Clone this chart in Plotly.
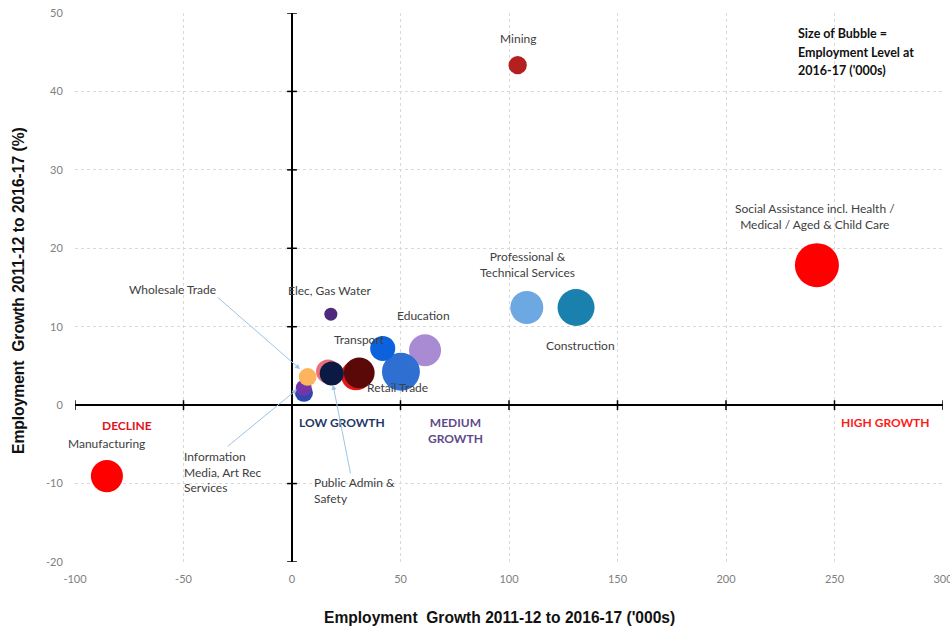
import plotly.graph_objects as go

# ---- data ----
industries = [
    "Social Assistance incl. Health / Medical / Aged & Child Care",
    "Manufacturing",
    "Mining",
    "Construction",
    "Professional & Technical Services",
    "Education",
    "Retail Trade",
    "Transport",
    "Administrative & Support Services",
    "Accommodation & Food Services",
    "Financial & Insurance Services",
    "Public Admin & Safety",
    "Rental, Hiring & Real Estate",
    "Information Media, Art Rec Services",
    "Wholesale Trade",
    "Elec, Gas Water",
]
growth_000s = [241.9, -85.3, 104.0, 130.9, 108.2, 61.3, 50.2, 41.8, 29.5, 31.0, 16.6, 18.3, 5.5, 5.4, 7.2, 17.9]
growth_pct = [17.85, -9.05, 43.35, 12.45, 12.45, 7.0, 4.25, 7.23, 3.8, 4.12, 4.3, 4.04, 1.57, 2.2, 3.6, 11.6]
employment_2016_17 = [1600, 850, 275, 1130, 900, 850, 1190, 520, 745, 780, 475, 475, 270, 210, 260, 140]

x_ticks = [-100, -50, 0, 50, 100, 150, 200, 250, 300]
y_ticks = [-20, -10, 0, 10, 20, 30, 40, 50]

# ---- styles ----
colors = ["#ff0000", "#ff0000", "#b3201f", "#1a80ad", "#6ea8e2", "#a98bd3", "#2f6fd2", "#0b62dc",
          "#e01818", "#5a0808", "#e8707e", "#0a1a42", "#2e48b0", "#7335a8", "#fdb45c", "#4d2a7c"]
MAX_D = 44
label_font = dict(family="Lato, Carlito, sans-serif", size=12, color="#404040")
arrow_color = "#9ec4e4"

fig = go.Figure()

fig.add_trace(go.Scatter(
    x=growth_000s, y=growth_pct, mode="markers",
    text=industries,
    customdata=employment_2016_17,
    hovertemplate="%{text}<br>Growth: %{x}k (%{y}%)<br>Employment: %{customdata}k<extra></extra>",
    marker=dict(size=employment_2016_17, sizemode="area",
                sizeref=2.0 * max(employment_2016_17) / MAX_D ** 2,
                color=colors, opacity=1, line=dict(width=0)),
    showlegend=False,
))

# small tick marks along the zero lines
fig.add_trace(go.Scatter(
    x=[0] * len(y_ticks), y=y_ticks, mode="markers", hoverinfo="skip", showlegend=False,
    marker=dict(symbol="line-ew", size=7, line=dict(color="black", width=1.5)),
))
fig.add_trace(go.Scatter(
    x=x_ticks, y=[0] * len(x_ticks), mode="markers", hoverinfo="skip", showlegend=False,
    marker=dict(symbol="line-ns", size=7, line=dict(color="black", width=1.5)),
))

def label(x, y, text, **kw):
    d = dict(x=x, y=y, xref="x", yref="y", text=text, showarrow=False, font=label_font,
             xanchor="center", yanchor="middle")
    d.update(kw)
    fig.add_annotation(**d)

label(104.1, 46.75, "Mining")
label(241.0, 24.1, "Social Assistance incl. Health /<br>Medical / Aged & Child Care")
label(108.4, 17.9, "Professional &<br>Technical Services")
label(133.0, 7.65, "Construction")
label(60.8, 11.4, "Education")
label(31.3, 8.37, "Transport")
label(48.5, 2.25, "Retail Trade")
label(17.5, 14.66, "Elec, Gas Water")
label(-55.0, 14.75, "Wholesale Trade")
label(-50.8, -8.5, "Information<br>Media, Art Rec<br>Services", xanchor="left", align="left")
label(9.1, -10.84, "Public Admin &<br>Safety", xanchor="left", align="left")
label(-85.4, -4.9, "Manufacturing")

bold = "Lato, Carlito, sans-serif"
label(-75.9, -2.55, "<b>DECLINE</b>", font=dict(family=bold, size=12, color="#e0141e"))
label(22.9, -2.25, "<b>LOW GROWTH</b>", font=dict(family=bold, size=12, color="#1f3864"))
label(75.4, -3.25, "<b>MEDIUM<br>GROWTH</b>", font=dict(family=bold, size=12, color="#5e4a8a"))
label(273.3, -2.25, "<b>HIGH GROWTH</b>", font=dict(family=bold, size=12, color="#ff1a1a"))
for yy, line in zip([47.39, 44.91, 42.62],
                    ["Size of Bubble =", "Employment Level at", "2016-17 ('000s)"]):
    label(232.3, yy, "<b>" + line + "</b>", xanchor="left", align="left",
          font=dict(family=bold, size=12.5, color="#111111"))

# arrows
for (hx, hy, tx, ty) in [(3.7, 4.6, -34.9, 13.9), (2.3, 2.0, -30.3, -5.4), (18.9, 2.6, 27.1, -8.9)]:
    fig.add_annotation(x=hx, y=hy, ax=tx, ay=ty, xref="x", yref="y", axref="x", ayref="y",
                       text="", showarrow=True, arrowhead=2, arrowsize=1, arrowwidth=1,
                       arrowcolor=arrow_color)

# axis titles
title_font = dict(family="Liberation Sans, Arial, sans-serif", size=15.6, color="#111111")
fig.add_annotation(xref="paper", yref="paper", x=0.4896, y=0, yshift=-55, xanchor="center",
                   yanchor="middle", showarrow=False,
                   text="<b>Employment  Growth 2011-12 to 2016-17 ('000s)</b>", font=title_font)
fig.add_annotation(xref="paper", yref="paper", x=0, xshift=-57, y=0.4936, xanchor="center",
                   yanchor="middle", showarrow=False, textangle=-90,
                   text="<b>Employment  Growth 2011-12 to 2016-17 (%)</b>", font=title_font)

axis_common = dict(showgrid=True, gridcolor="#d9d9d9", griddash="3px,3px", gridwidth=1,
                   zeroline=True, zerolinecolor="black", zerolinewidth=2,
                   showline=False, ticks="outside", tickcolor="rgba(0,0,0,0)",
                   ticklabeloverflow="allow", automargin=False,
                   tickfont=dict(family="Lato, Carlito, sans-serif", size=11, color="#808080"))

fig.update_xaxes(range=[-100, 300], tickvals=x_ticks, ticktext=[str(v) for v in x_ticks],
                 ticklen=7, **axis_common)
fig.update_yaxes(range=[-20, 50], tickvals=y_ticks, ticktext=[str(v) for v in y_ticks],
                 ticklen=9, **axis_common)

fig.update_layout(
    width=950, height=626,
    margin=dict(l=75, r=7, t=13, b=64, autoexpand=False),
    paper_bgcolor="white", plot_bgcolor="white",
    showlegend=False,
)

fig.write_html("out.html")
